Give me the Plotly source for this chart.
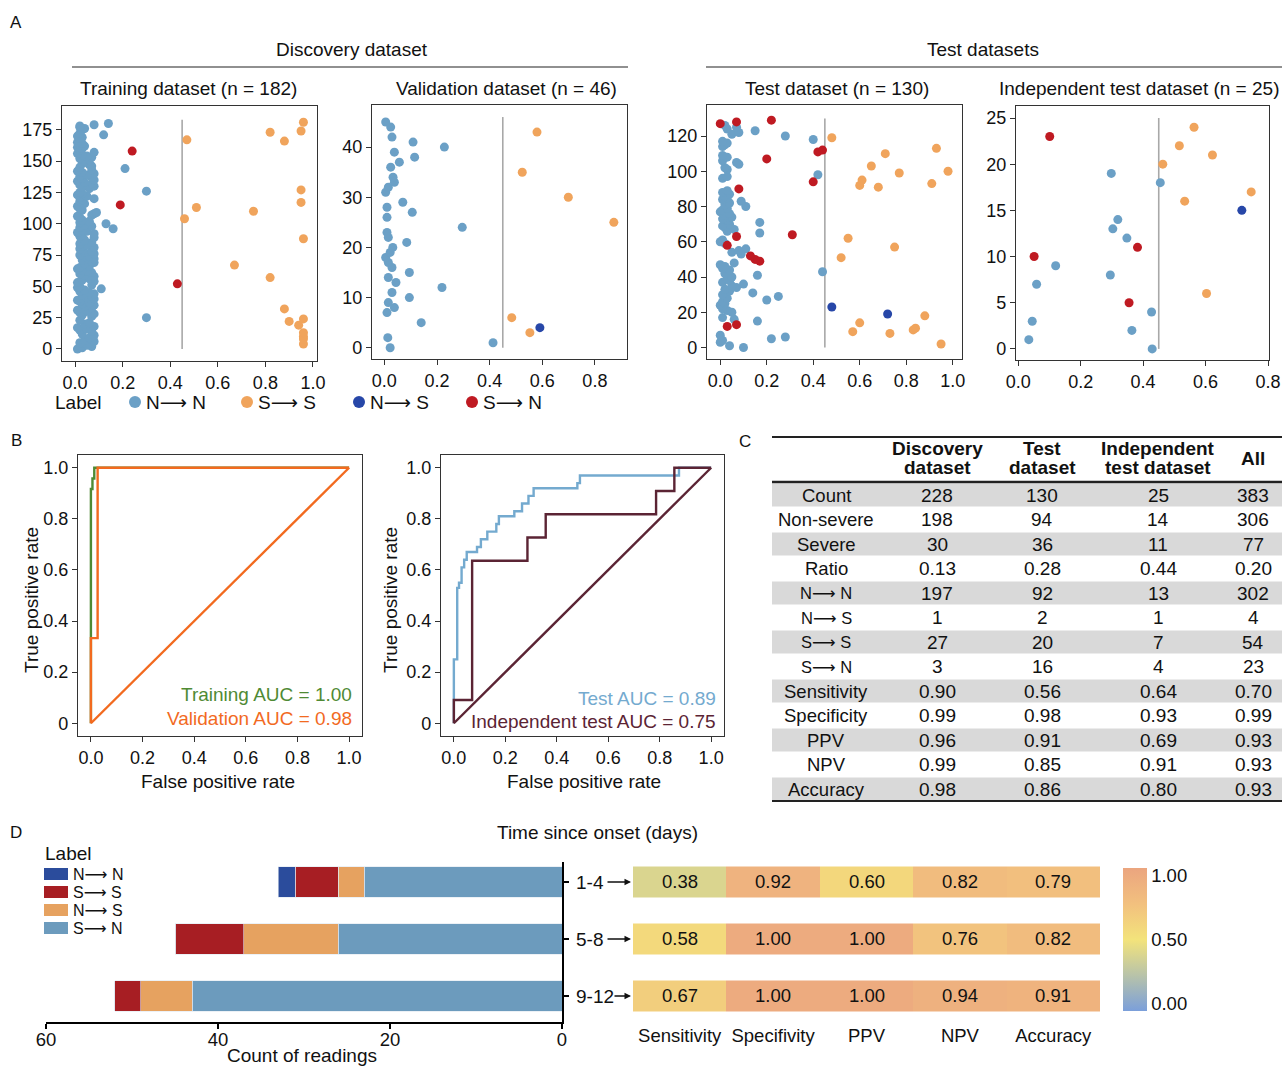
import plotly.graph_objects as go

W, H = 1282, 1066
FONT = "Liberation Sans, Arial, DejaVu Sans, sans-serif"

def px(x):
    return x / W

def py(y):
    return 1 - y / H

# ---------------- DATA ----------------
label_names = ["N⟶ N", "S⟶ S", "N⟶ S", "S⟶ N"]   # codes 0..3

train_prob = [
    0.01, 0.03, 0.07, 0.05, 0.96, 0.02, 0.08, 0.04, 0.96, 0.06,
    0.96, 0.08, 0.03, 0.96, 0.07, 0.02, 0.05, 0.01, 0.08, 0.94,
    0.04, 0.06, 0.90, 0.02, 0.96, 0.30, 0.07, 0.03, 0.08, 0.02,
    0.05, 0.01, 0.88, 0.07, 0.04, 0.08, 0.03, 0.06, 0.02, 0.01,
    0.08, 0.05, 0.07, 0.03, 0.08, 0.06, 0.02, 0.04, 0.11, 0.01,
    0.02, 0.07, 0.43, 0.01, 0.08, 0.03, 0.06, 0.82, 0.08, 0.04,
    0.02, 0.07, 0.05, 0.03, 0.01, 0.02, 0.06, 0.67, 0.04, 0.08,
    0.07, 0.03, 0.08, 0.05, 0.06, 0.02, 0.08, 0.04, 0.07, 0.03,
    0.02, 0.08, 0.03, 0.05, 0.02, 0.07, 0.03, 0.04, 0.96, 0.08,
    0.02, 0.03, 0.08, 0.01, 0.05, 0.03, 0.16, 0.02, 0.07, 0.04,
    0.13, 0.02, 0.06, 0.03, 0.46, 0.02, 0.01, 0.07, 0.08, 0.09,
    0.75, 0.03, 0.02, 0.51, 0.01, 0.19, 0.04, 0.95, 0.02, 0.03,
    0.08, 0.02, 0.05, 0.01, 0.03, 0.02, 0.30, 0.95, 0.06, 0.03,
    0.08, 0.02, 0.07, 0.04, 0.01, 0.08, 0.03, 0.07, 0.02, 0.05,
    0.08, 0.03, 0.01, 0.07, 0.21, 0.02, 0.07, 0.06, 0.03, 0.05,
    0.04, 0.06, 0.02, 0.07, 0.05, 0.03, 0.01, 0.08, 0.24, 0.02,
    0.03, 0.01, 0.04, 0.02, 0.03, 0.01, 0.88, 0.47, 0.02, 0.03,
    0.01, 0.12, 0.02, 0.82, 0.95, 0.03, 0.04, 0.02, 0.02, 0.08,
    0.14, 0.96]
train_label = [
    0, 0, 0, 0, 1, 0, 0, 0, 1, 0,
    1, 0, 0, 1, 0, 0, 0, 0, 0, 1,
    0, 0, 1, 0, 1, 0, 0, 0, 0, 0,
    0, 0, 1, 0, 0, 0, 0, 0, 0, 0,
    0, 0, 0, 0, 0, 0, 0, 0, 0, 0,
    0, 0, 3, 0, 0, 0, 0, 1, 0, 0,
    0, 0, 0, 0, 0, 0, 0, 1, 0, 0,
    0, 0, 0, 0, 0, 0, 0, 0, 0, 0,
    0, 0, 0, 0, 0, 0, 0, 0, 1, 0,
    0, 0, 0, 0, 0, 0, 0, 0, 0, 0,
    0, 0, 0, 0, 1, 0, 0, 0, 0, 0,
    1, 0, 0, 1, 0, 3, 0, 1, 0, 0,
    0, 0, 0, 0, 0, 0, 0, 1, 0, 0,
    0, 0, 0, 0, 0, 0, 0, 0, 0, 0,
    0, 0, 0, 0, 0, 0, 0, 0, 0, 0,
    0, 0, 0, 0, 0, 0, 0, 0, 3, 0,
    0, 0, 0, 0, 0, 0, 1, 1, 0, 0,
    0, 0, 0, 1, 1, 0, 0, 0, 0, 0,
    0, 1]

val_prob = [
    0.022, 0.413, 0.013, 0.553, 0.591, 0.140, 0.484, 0.010, 0.038, 0.015,
    0.095, 0.029, 0.219, 0.044, 0.015, 0.095, 0.029, 0.015, 0.005, 0.022,
    0.032, 0.085, 0.015, 0.010, 0.296, 0.872, 0.010, 0.106, 0.010, 0.070,
    0.699, 0.005, 0.015, 0.038, 0.033, 0.524, 0.024, 0.057, 0.115, 0.038,
    0.228, 0.109, 0.029, 0.580, 0.024, 0.005]
val_label = [
    0, 0, 0, 1, 2, 0, 1, 0, 0, 0,
    0, 0, 0, 0, 0, 0, 0, 0, 0, 0,
    0, 0, 0, 0, 0, 1, 0, 0, 0, 0,
    1, 0, 0, 0, 0, 1, 0, 0, 0, 0,
    0, 0, 0, 1, 0, 0]

test_prob = [
    0.10, 0.04, 0.95, 0.00, 0.01, 0.22, 0.28, 0.00, 0.73, 0.57,
    0.83, 0.84, 0.03, 0.07, 0.60, 0.16, 0.06, 0.01, 0.88, 0.72,
    0.05, 0.03, 0.01, 0.48, 0.00, 0.02, 0.01, 0.20, 0.03, 0.25,
    0.01, 0.14, 0.04, 0.02, 0.07, 0.05, 0.10, 0.01, 0.04, 0.03,
    0.05, 0.16, 0.02, 0.44, 0.04, 0.01, 0.02, 0.00, 0.06, 0.17,
    0.15, 0.52, 0.13, 0.09, 0.05, 0.08, 0.11, 0.75, 0.03, 0.02,
    0.00, 0.01, 0.55, 0.07, 0.31, 0.17, 0.03, 0.06, 0.02, 0.01,
    0.04, 0.17, 0.03, 0.01, 0.05, 0.02, 0.04, 0.00, 0.01, 0.03,
    0.11, 0.02, 0.04, 0.09, 0.01, 0.03, 0.02, 0.04, 0.01, 0.03,
    0.08, 0.68, 0.60, 0.91, 0.40, 0.61, 0.01, 0.03, 0.42, 0.77,
    0.98, 0.03, 0.02, 0.65, 0.08, 0.07, 0.01, 0.20, 0.03, 0.01,
    0.71, 0.42, 0.44, 0.93, 0.01, 0.02, 0.03, 0.01, 0.40, 0.48,
    0.28, 0.05, 0.08, 0.15, 0.03, 0.07, 0.02, 0.00, 0.07, 0.22]
test_label = [
    0, 0, 1, 0, 0, 0, 0, 0, 1, 1,
    1, 1, 3, 3, 1, 0, 0, 0, 1, 2,
    0, 0, 0, 2, 0, 0, 0, 0, 0, 0,
    0, 0, 0, 0, 0, 0, 0, 0, 0, 0,
    0, 0, 0, 0, 0, 0, 0, 0, 0, 3,
    3, 1, 3, 0, 0, 0, 0, 1, 3, 0,
    0, 0, 1, 3, 3, 0, 0, 0, 0, 0,
    0, 0, 0, 0, 0, 0, 0, 0, 0, 0,
    0, 0, 0, 0, 0, 0, 0, 0, 0, 0,
    3, 1, 1, 1, 3, 1, 0, 0, 0, 1,
    1, 0, 0, 1, 0, 0, 0, 3, 0, 0,
    1, 3, 3, 1, 0, 0, 0, 0, 0, 1,
    0, 0, 0, 0, 0, 0, 0, 3, 3, 3]

ind_prob = [
    0.429, 0.034, 0.364, 0.045, 0.427, 0.355, 0.603, 0.059, 0.295, 0.120,
    0.051, 0.382, 0.348, 0.303, 0.319, 0.716, 0.533, 0.746, 0.455, 0.298,
    0.463, 0.622, 0.516, 0.101, 0.563]
ind_label = [
    0, 0, 0, 0, 0, 3, 1, 0, 0, 0,
    3, 3, 0, 0, 0, 2, 1, 1, 0, 0,
    1, 1, 1, 3, 1]

threshold = 0.45

# ROC curves
train_fpr = [0, 0, 0.006, 0.006, 0.013, 0.013, 1.0]
train_tpr = [0, 0.917, 0.917, 0.958, 0.958, 1.0, 1.0]
val_fpr = [0, 0, 0.026, 0.026, 1.0]
val_tpr = [0, 0.333, 0.333, 1.0, 1.0]
test_fpr = [0, 0, 0.013, 0.013, 0.02, 0.02, 0.03, 0.03, 0.04, 0.04, 0.05, 0.05,
            0.09, 0.09, 0.105, 0.105, 0.13, 0.13, 0.165, 0.165, 0.175, 0.175,
            0.235, 0.235, 0.265, 0.265, 0.29, 0.29, 0.31, 0.31, 0.48, 0.48,
            0.49, 0.49, 0.875, 0.875, 1.0]
test_tpr = [0, 0.25, 0.25, 0.53, 0.53, 0.55, 0.55, 0.61, 0.61, 0.64, 0.64, 0.67,
            0.67, 0.69, 0.69, 0.72, 0.72, 0.75, 0.75, 0.78, 0.78, 0.81, 0.81,
            0.83, 0.83, 0.86, 0.86, 0.89, 0.89, 0.92, 0.92, 0.94, 0.94, 0.97,
            0.97, 1.0, 1.0]
ind_fpr = [0, 0, 0.071, 0.071, 0.286, 0.286, 0.357, 0.357, 0.786, 0.786, 0.857, 0.857, 1.0]
ind_tpr = [0, 0.091, 0.091, 0.636, 0.636, 0.727, 0.727, 0.818, 0.818, 0.909, 0.909, 1.0, 1.0]
chance = [0, 1]

# Table C
table_head = [["Discovery", "dataset"], ["Test", "dataset"], ["Independent", "test dataset"], ["All"]]
table_rows = ["Count", "Non-severe", "Severe", "Ratio", "N⟶ N", "N⟶ S", "S⟶ S", "S⟶ N",
              "Sensitivity", "Specificity", "PPV", "NPV", "Accuracy"]
col_discovery = ["228", "198", "30", "0.13", "197", "1", "27", "3", "0.90", "0.99", "0.96", "0.99", "0.98"]
col_test = ["130", "94", "36", "0.28", "92", "2", "20", "16", "0.56", "0.98", "0.91", "0.85", "0.86"]
col_indep = ["25", "14", "11", "0.44", "13", "1", "7", "4", "0.64", "0.93", "0.69", "0.91", "0.80"]
col_all = ["383", "306", "77", "0.20", "302", "4", "54", "23", "0.70", "0.99", "0.93", "0.93", "0.93"]

# Panel D
onset_groups = ["1-4", "5-8", "9-12"]
onset_pos = [2, 1, 0]
bar_SN = [23, 26, 43]
bar_NS = [3, 11, 6]
bar_SS = [5, 8, 3]
bar_NN = [2, 0, 0]
metrics = ["Sensitivity", "Specifivity", "PPV", "NPV", "Accuracy"]
metric_vals = [
    [0.38, 0.92, 0.60, 0.82, 0.79],
    [0.58, 1.00, 1.00, 0.76, 0.82],
    [0.67, 1.00, 1.00, 0.94, 0.91],
]

# ---------------- STYLE ----------------
SC = ["#6ba0c6", "#f0a45c", "#2747a8", "#bf1a22"]   # scatter colours by code
DC = {"NN": "#2b4c9c", "SS": "#a71e23", "NS": "#e6a260", "SN": "#6c9bbd"}
TXT = "#111111"
FS = 19

fig = go.Figure()

panels = [
    (train_prob, train_label, "", (62, 317), (106, 361), (-0.055, 1.017), (-9.6, 194),
     [0, 0.2, 0.4, 0.6, 0.8, 1.0], [0, 25, 50, 75, 100, 125, 150, 175], 183),
    (val_prob, val_label, "2", (372, 627), (105, 359), (-0.047, 0.922), (-2.25, 48.4),
     [0, 0.2, 0.4, 0.6, 0.8], [0, 10, 20, 30, 40], 46),
    (test_prob, test_label, "3", (707, 962), (105, 359), (-0.057, 1.04), (-6.5, 137.6),
     [0, 0.2, 0.4, 0.6, 0.8, 1.0], [0, 20, 40, 60, 80, 100, 120], 130),
    (ind_prob, ind_label, "4", (1016, 1269), (106, 360), (-0.007, 0.803), (-1.2, 26.3),
     [0, 0.2, 0.4, 0.6, 0.8], [0, 5, 10, 15, 20, 25], 25),
]

frame = dict(showline=True, mirror=True, linecolor="#333333", linewidth=1.3,
             ticks="outside", ticklen=5, tickcolor="#333333", showgrid=False,
             zeroline=False, automargin=False,
             tickfont=dict(size=18, color=TXT, family=FONT))

shapes = []
annots = []

for prob, lab, sfx, xd, yd, xr, yr, xt, yt, ltop in panels:
    xa = "x" + sfx
    ya = "y" + sfx
    for code in [0, 1, 3, 2]:
        xs = [p for p, l in zip(prob, lab) if l == code]
        ys = [i for i, l in enumerate(lab) if l == code]
        fig.add_trace(go.Scatter(x=xs, y=ys, mode="markers", xaxis=xa, yaxis=ya,
                                 marker=dict(size=9, color=SC[code], line=dict(width=0)),
                                 showlegend=False, hoverinfo="skip"))
    fig.layout["xaxis" + sfx] = dict(frame, domain=[px(xd[0]), px(xd[1])], range=list(xr),
                                      anchor=ya, tickvals=xt, tickformat=".1f")
    fig.layout["yaxis" + sfx] = dict(frame, domain=[py(yd[1]), py(yd[0])], range=list(yr),
                                      anchor=xa, tickvals=yt)
    shapes.append(dict(type="line", xref=xa, yref=ya, x0=threshold, x1=threshold, y0=0, y1=ltop,
                       line=dict(color="#a8a8a8", width=1.6), layer="below"))

# Panel B ROC
roc_axes = [("5", (78, 362)), ("6", (441, 724))]
for sfx, xd in roc_axes:
    fig.layout["xaxis" + sfx] = dict(frame, domain=[px(xd[0]), px(xd[1])], range=[-0.05, 1.05],
                                      anchor="y" + sfx, tickvals=[0, 0.2, 0.4, 0.6, 0.8, 1.0],
                                      tickformat=".1f")
    fig.layout["yaxis" + sfx] = dict(frame, domain=[py(736), py(455)], range=[-0.05, 1.05],
                                      anchor="x" + sfx, tickvals=[0, 0.2, 0.4, 0.6, 0.8, 1.0],
                                      ticktext=["0", "0.2", "0.4", "0.6", "0.8", "1.0"])

GREEN, ORANGE, LBLUE, MAROON = "#4f8a34", "#f26a1f", "#74aacf", "#5b2434"
for xs, ys, c, ax in [(train_fpr, train_tpr, GREEN, "5"), (val_fpr, val_tpr, ORANGE, "5"),
                      (chance, chance, ORANGE, "5"), (test_fpr, test_tpr, LBLUE, "6"),
                      (ind_fpr, ind_tpr, MAROON, "6"), (chance, chance, MAROON, "6")]:
    fig.add_trace(go.Scatter(x=xs, y=ys, mode="lines", xaxis="x" + ax, yaxis="y" + ax,
                             line=dict(color=c, width=2.4), showlegend=False, hoverinfo="skip"))

# Panel D bars
for vals, key, name in [(bar_SN, "SN", "S⟶ N"), (bar_NS, "NS", "N⟶ S"),
                        (bar_SS, "SS", "S⟶ S"), (bar_NN, "NN", "N⟶ N")]:
    fig.add_trace(go.Bar(x=vals, y=onset_pos, orientation="h", xaxis="x7", yaxis="y7",
                         width=0.54, marker=dict(color=DC[key], line=dict(width=0.6, color="#dfe8f0")),
                         showlegend=False, hoverinfo="skip", name=name))
DY_RANGE = [-0.456, 2.35]
fig.layout["xaxis7"] = dict(domain=[px(46), px(562)], range=[60, 0], anchor="y7",
                            showline=True, linecolor="black", linewidth=2, ticks="outside",
                            ticklen=5, tickwidth=2, tickcolor="black", tickvals=[0, 20, 40, 60],
                            ticklabelstandoff=-5,
                            showgrid=False, zeroline=False, automargin=False,
                            tickfont=dict(size=18.5, color=TXT, family=FONT))
fig.layout["yaxis7"] = dict(domain=[py(1022), py(862)], range=DY_RANGE, anchor="x7",
                            side="right", showline=True, linecolor="black", linewidth=2,
                            ticks="outside", ticklen=5, tickwidth=1.5, tickcolor="black",
                            tickvals=onset_pos, showticklabels=False, showgrid=False,
                            zeroline=False, automargin=False)

# Panel D heatmap
fig.add_trace(go.Heatmap(z=metric_vals, x=metrics, y=onset_pos, xaxis="x8", yaxis="y8",
                         zmin=-0.06, zmax=1.06, ygap=26, xgap=0,
                         colorscale=[[0, "#7b9fda"], [0.25, "#b8c3a9"], [0.5, "#f3e37b"],
                                     [0.75, "#f2c07e"], [1, "#eba57f"]],
                         texttemplate="%{z:.2f}", textfont=dict(size=18.5, color=TXT, family=FONT),
                         hoverinfo="skip",
                         colorbar=dict(x=px(1123), xanchor="left", y=py(939.5), yanchor="middle",
                                       len=143 / H, lenmode="fraction", thickness=24,
                                       outlinewidth=0, xpad=0, ypad=0,
                                       tickvals=[0, 0.5, 1], ticktext=["0.00", "0.50", "1.00"],
                                       ticks="", tickfont=dict(size=18.5, color=TXT, family=FONT))))
fig.layout["xaxis8"] = dict(domain=[px(633), px(1100)], anchor="y8", showline=False, ticks="",
                            showgrid=False, zeroline=False, automargin=False,
                            tickfont=dict(size=18.5, color=TXT, family=FONT))
fig.layout["yaxis8"] = dict(domain=[py(1022), py(862)], range=DY_RANGE, anchor="x8",
                            visible=False, automargin=False)

# ---------------- ANNOTATIONS / SHAPES ----------------
def text(x, y, s, size=FS, color=TXT, xanchor="center", angle=0, bold=False):
    if bold:
        s = "<b>" + s + "</b>"
    annots.append(dict(x=px(x), y=py(y), xref="paper", yref="paper", text=s, showarrow=False,
                       xanchor=xanchor, yanchor="middle", textangle=angle,
                       font=dict(size=size, color=color, family=FONT)))

# Panel letters
text(16, 22, "A", 17)
text(16, 440, "B", 17)
text(745, 441, "C", 17)
text(16, 832, "D", 17)

# Panel A headers
text(352, 50, "Discovery dataset")
text(983, 50, "Test datasets")
shapes.append(dict(type="line", xref="paper", yref="paper", x0=px(72), x1=px(628), y0=py(67), y1=py(67),
                   line=dict(color="#222", width=1.2)))
shapes.append(dict(type="line", xref="paper", yref="paper", x0=px(706), x1=px(1282), y0=py(67), y1=py(67),
                   line=dict(color="#222", width=1.2)))
text(188, 88, "Training dataset (n = 182)")
text(506, 88, "Validation dataset (n = 46)")
text(837, 88, "Test dataset (n = 130)")
text(1139, 88, "Independent test dataset (n = 25)")

# Panel A legend
text(53, 402, "Label", xanchor="left")
leg_x = [135, 247, 359, 472]
for code, cx in zip([0, 1, 2, 3], leg_x):
    shapes.append(dict(type="circle", xref="paper", yref="paper", x0=px(cx - 6), x1=px(cx + 6),
                       y0=py(402 + 6), y1=py(402 - 6), fillcolor=SC[code], line=dict(width=0)))
    text(cx + 9, 402, label_names[code], xanchor="left")

# Panel B labels
text(31, 600, "True positive rate", angle=-90)
text(390, 600, "True positive rate", angle=-90)
text(218, 781, "False positive rate")
text(584, 781, "False positive rate")
text(354, 694, "Training AUC = 1.00", color=GREEN, xanchor="right")
text(354, 718, "Validation AUC = 0.98", color=ORANGE, xanchor="right")
text(718, 698, "Test AUC = 0.89", color=LBLUE, xanchor="right")
text(718, 721, "Independent test AUC = 0.75", color=MAROON, xanchor="right")

# Panel C table
T_X0, T_X1 = 772, 1282
row_y0, row_step = 495, 24.5
col_x = [937, 1042, 1158, 1253]
lab_x = 826
shapes.append(dict(type="line", xref="paper", yref="paper", x0=px(T_X0), x1=px(T_X1),
                   y0=py(437), y1=py(437), line=dict(color="#222", width=2)))
for i in range(len(table_rows)):
    cy = row_y0 + i * row_step
    if i % 2 == 0:
        shapes.append(dict(type="rect", xref="paper", yref="paper", x0=px(T_X0), x1=px(T_X1),
                           y0=py(cy + 11.5), y1=py(cy - 11.5), fillcolor="#d9d9d9",
                           line=dict(width=0), layer="below"))
shapes.append(dict(type="line", xref="paper", yref="paper", x0=px(T_X0), x1=px(T_X1),
                   y0=py(482), y1=py(482), line=dict(color="#222", width=2.5)))
shapes.append(dict(type="line", xref="paper", yref="paper", x0=px(T_X0), x1=px(T_X1),
                   y0=py(801), y1=py(801), line=dict(color="#222", width=2)))
for cx, head in zip(col_x, table_head):
    if len(head) == 2:
        text(cx, 448, head[0], bold=True)
        text(cx, 468, head[1], bold=True)
    else:
        text(cx, 458, head[0], bold=True)
for i, name in enumerate(table_rows):
    cy = row_y0 + i * row_step
    text(lab_x, cy, name, 16.5 if "⟶" in name else 18.5)
    for cx, col in zip(col_x, [col_discovery, col_test, col_indep, col_all]):
        text(cx, cy, col[i], 19)

# Panel D texts
text(597, 832, "Time since onset (days)")
text(302, 1055, "Count of readings")
text(43, 853, "Label", xanchor="left")
dleg = [("NN", "N⟶ N"), ("SS", "S⟶ S"), ("NS", "N⟶ S"), ("SN", "S⟶ N")]
for k, (key, name) in enumerate(dleg):
    cy = 874 + k * 18
    shapes.append(dict(type="rect", xref="paper", yref="paper", x0=px(44), x1=px(68),
                       y0=py(cy + 6), y1=py(cy - 6), fillcolor=DC[key], line=dict(width=0)))
    text(71, cy, name, 16, xanchor="left")

row_centers = [882, 939, 996]
arrow_tail = [606, 606, 613]
for g, cy, tail in zip(onset_groups, row_centers, arrow_tail):
    text(574, cy, g, xanchor="left")
    annots.append(dict(x=px(631), y=py(cy), xref="paper", yref="paper", text="", showarrow=True,
                       ax=-(631 - tail), ay=0, axref="pixel", ayref="pixel", arrowhead=2,
                       arrowsize=1, arrowwidth=1.3, arrowcolor=TXT))

fig.update_layout(width=W, height=H, margin=dict(l=0, r=0, t=0, b=0, autoexpand=False),
                  paper_bgcolor="white", plot_bgcolor="white", barmode="stack",
                  font=dict(family=FONT, color=TXT), shapes=shapes, annotations=annots,
                  showlegend=False)

fig.write_html("out.html", config={"displayModeBar": False},
               post_script="document.body.style.margin='0px';document.documentElement.style.overflow='hidden';")
